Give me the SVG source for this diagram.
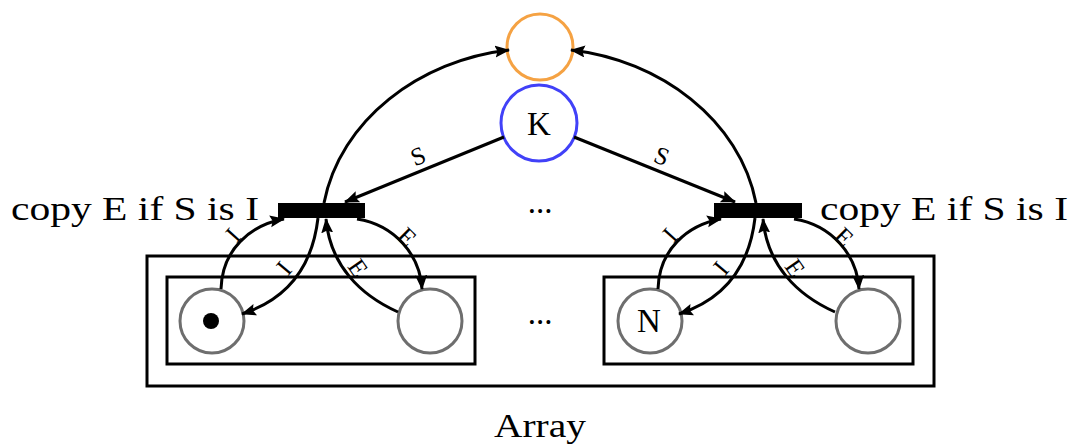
<svg xmlns="http://www.w3.org/2000/svg" width="1079" height="447" viewBox="0 0 1079 447">
  <style>
    .txt { font-family: "Liberation Serif", "DejaVu Serif", serif; fill: #000; }
    .big { font-size: 33px; }
    .lbl { font-size: 25px; text-anchor: middle; dominant-baseline: central; }
    .box { fill: none; stroke: #000; stroke-width: 3; }
    .place { fill: #fff; stroke: #6e6e6e; stroke-width: 3; }
    .edge { fill: none; stroke: #000; stroke-width: 3; marker-end: url(#arrow); }
  </style>
  <defs>
    <marker id="arrow" markerUnits="userSpaceOnUse" markerWidth="16" markerHeight="14" refX="14" refY="6" orient="auto">
      <path d="M0,0 L15,6 L0,12 L2.5,6 z" fill="#000"/>
    </marker>
  </defs>
  <rect width="1079" height="447" fill="#fff"/>

  <!-- array container -->
  <g id="array">
    <rect class="box" x="147" y="256" width="787" height="130"/>
    <text class="txt big" x="540" y="437" text-anchor="middle" textLength="92" lengthAdjust="spacingAndGlyphs">Array</text>
  </g>
  <g id="cell-left">
    <rect class="box" x="167" y="277" width="308" height="87"/>
  </g>
  <g id="cell-right">
    <rect class="box" x="604" y="277" width="309" height="87"/>
  </g>

  <!-- places -->
  <g id="place-out">
    <circle cx="540" cy="47" r="33" fill="#fff" stroke="#F5A243" stroke-width="3"/>
  </g>
  <g id="place-K">
    <circle cx="539" cy="123" r="38" fill="#fff" stroke="#4141F8" stroke-width="3"/>
    <text class="txt" x="539" y="135" font-size="33" text-anchor="middle">K</text>
  </g>
  <g id="place-left-I">
    <circle class="place" cx="212" cy="321" r="32"/>
    <circle cx="211" cy="321" r="8" fill="#000"/>
  </g>
  <g id="place-left-E">
    <circle class="place" cx="430" cy="321" r="32"/>
  </g>
  <g id="place-right-I">
    <circle class="place" cx="650" cy="321" r="32"/>
    <text class="txt" x="649" y="332" font-size="33" text-anchor="middle">N</text>
  </g>
  <g id="place-right-E">
    <circle class="place" cx="868" cy="321" r="32"/>
  </g>

  <!-- ellipses between repeated parts -->
  <g id="dots">
    <text class="txt big" x="540" y="213" text-anchor="middle">...</text>
    <text class="txt big" x="540" y="324" text-anchor="middle">...</text>
  </g>

  <!-- transitions -->
  <g id="trans-left">
    <rect x="278" y="203" width="87" height="15" fill="#000"/>
    <text class="txt big" x="11" y="220" textLength="248" lengthAdjust="spacingAndGlyphs">copy E if S is I</text>
  </g>
  <g id="trans-right">
    <rect x="714" y="203" width="88" height="15" fill="#000"/>
    <text class="txt big" x="820" y="220" textLength="248" lengthAdjust="spacingAndGlyphs">copy E if S is I</text>
  </g>

  <!-- arcs -->
  <g id="connectors">
    <path class="edge" d="M324 203 C340 120 420 60 509 50"/>
    <path class="edge" d="M756 203 C740 120 660 60 571 50"/>

    <path class="edge" d="M504 137 L345 202"/>
    <path class="edge" d="M574 137 L735 202"/>

    <g id="arcs-left">
      <path class="edge" d="M221 289 C222 250 250 225 284 219"/>
      <path class="edge" d="M318 218 C312 270 285 300 242 314"/>
      <path class="edge" d="M398 312 C360 295 330 265 326 219"/>
      <path class="edge" d="M357 219 C395 225 420 255 422 289"/>
    </g>
    <g id="arcs-right" transform="translate(437 0)">
      <path class="edge" d="M221 289 C222 250 250 225 284 219"/>
      <path class="edge" d="M318 218 C312 270 285 300 242 314"/>
      <path class="edge" d="M398 312 C360 295 330 265 326 219"/>
      <path class="edge" d="M357 219 C395 225 420 255 422 289"/>
    </g>

    <!-- arc labels -->
    <text class="txt lbl" transform="translate(418 156) rotate(-22)">S</text>
    <text class="txt lbl" transform="translate(662 156) rotate(22)">S</text>

    <text class="txt lbl" transform="translate(233 235) rotate(-48)">I</text>
    <text class="txt lbl" transform="translate(284 268) rotate(-50)">I</text>
    <text class="txt lbl" transform="translate(358 268) rotate(55)">E</text>
    <text class="txt lbl" transform="translate(407 237) rotate(45)">E</text>

    <text class="txt lbl" transform="translate(670 235) rotate(-48)">I</text>
    <text class="txt lbl" transform="translate(721 268) rotate(-50)">I</text>
    <text class="txt lbl" transform="translate(795 268) rotate(55)">E</text>
    <text class="txt lbl" transform="translate(844 237) rotate(45)">E</text>
  </g>
</svg>
